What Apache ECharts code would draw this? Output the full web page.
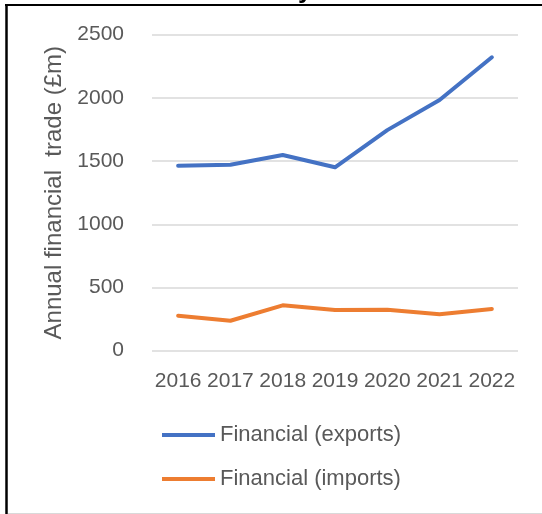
<!DOCTYPE html>
<html>
<head>
<meta charset="utf-8">
<script src="https://cdn.jsdelivr.net/npm/echarts@6/dist/echarts.min.js"></script>
<style>
html,body{margin:0;padding:0;background:#fff;}
#chart{width:542px;height:514px;}
</style>
</head>
<body>
<div id="chart"></div>
<script>
var years = ['2016', '2017', '2018', '2019', '2020', '2021', '2022'];
var exportsData = [1463, 1471, 1548, 1451, 1745, 1983, 2321];
var importsData = [277, 237, 359, 322, 324, 288, 330];
var yTicks = [0, 500, 1000, 1500, 2000, 2500];
var yAxisTitle = 'Annual financial  trade (£m)';
var seriesNames = ['Financial (exports)', 'Financial (imports)'];

var FONT = '"Liberation Sans", Arial, sans-serif';
var chart = echarts.init(document.getElementById('chart'), null, {renderer: 'canvas'});
chart.setOption({
  animation: false,
  backgroundColor: '#ffffff',
  grid: {left: 152, right: 24, top: 34.7, bottom: 163.3, containLabel: false},
  xAxis: {
    type: 'category',
    data: years,
    boundaryGap: true,
    axisLine: {show: false},
    axisTick: {show: false},
    axisLabel: {color: '#595959', fontSize: 21, fontFamily: FONT, margin: 20, interval: 0}
  },
  yAxis: {
    type: 'value',
    min: yTicks[0],
    max: yTicks[yTicks.length - 1],
    interval: 500,
    name: yAxisTitle,
    nameLocation: 'middle',
    nameGap: 76,
    nameRotate: 90,
    nameTextStyle: {color: '#595959', fontSize: 24, fontFamily: FONT},
    axisLine: {show: false},
    axisTick: {show: false},
    axisLabel: {color: '#595959', fontSize: 21, fontFamily: FONT, margin: 28,
                formatter: function (v) { return String(v); }},
    splitLine: {lineStyle: {color: '#d9d9d9', width: 1.5}}
  },
  legend: {
    orient: 'vertical',
    left: 162,
    top: 424,
    padding: 0,
    itemWidth: 53,
    itemHeight: 4,
    itemGap: 22,
    icon: 'rect',
    textStyle: {color: '#595959', fontSize: 22, fontFamily: FONT},
    data: seriesNames
  },
  series: [
    {name: seriesNames[0], type: 'line', data: exportsData, symbol: 'none',
     lineStyle: {color: '#4472C4', width: 4, cap: 'round', join: 'round'}, itemStyle: {color: '#4472C4'}},
    {name: seriesNames[1], type: 'line', data: importsData, symbol: 'none',
     lineStyle: {color: '#ED7D31', width: 4, cap: 'round', join: 'round'}, itemStyle: {color: '#ED7D31'}}
  ],
  graphic: [
    {type: 'text', left: 298, top: -22, z: 5,
     style: {text: 'y', fill: '#000', font: 'bold 26px ' + FONT}},
    {type: 'line', z: 10, shape: {x1: 5, y1: 5, x2: 542, y2: 5}, style: {stroke: '#000', lineWidth: 2}},
    {type: 'line', z: 10, shape: {x1: 6.5, y1: 4, x2: 6.5, y2: 514}, style: {stroke: '#000', lineWidth: 2.5}},
    {type: 'line', z: 10, shape: {x1: 8, y1: 513.5, x2: 542, y2: 513.5}, style: {stroke: '#d9d9d9', lineWidth: 1}}
  ]
});
</script>
</body>
</html>
